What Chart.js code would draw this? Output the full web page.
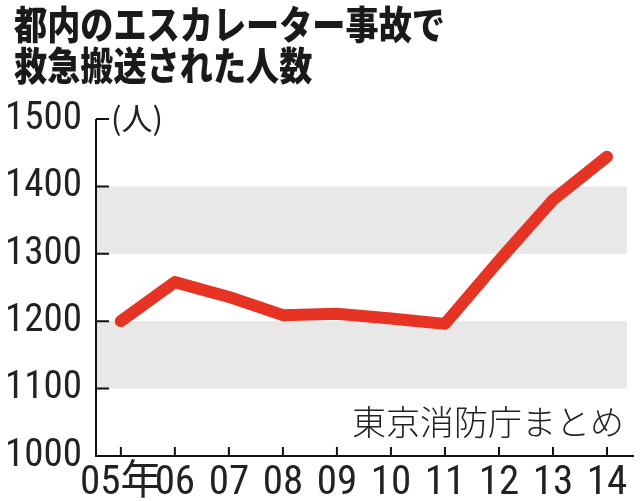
<!DOCTYPE html>
<html lang="ja">
<head>
<meta charset="utf-8">
<script src="https://cdn.jsdelivr.net/npm/chart.js@4/dist/chart.umd.min.js"></script>
<style>
  html, body { margin: 0; padding: 0; background: #fff; }
  #wrap { position: relative; width: 640px; height: 501px; overflow: hidden; }
  #chart { position: absolute; left: 0; top: 0; }
  .title {
    position: absolute; left: 14px; top: 2px;
    font-family: "Noto Sans CJK JP", sans-serif; font-weight: 900;
    font-size: 39px; line-height: 41px; color: #1a1a1a;
    transform: scaleX(0.85); transform-origin: left top; white-space: nowrap;
  }
  .unit {
    position: absolute; left: 111px; top: 94px;
    font-family: "Noto Sans CJK JP", sans-serif; font-size: 31px; color: #222;
  }
  .source {
    position: absolute; right: 16px; top: 396px;
    font-family: "Noto Sans CJK JP", sans-serif; font-size: 34px; color: #222;
    font-weight: 300;
  }
</style>
</head>
<body>
<div id="wrap">
  <canvas id="chart" width="640" height="501"></canvas>
  <div class="title">都内のエスカレーター事故で<br>救急搬送された人数</div>
  <div class="unit">(人)</div>
  <div class="source">東京消防庁まとめ</div>
</div>
<script>
const years = ['05年', '06', '07', '08', '09', '10', '11', '12', '13', '14'];
const counts = [1200, 1258, 1236, 1209, 1211, 1204, 1196, 1290, 1380, 1444];
const yTicks = [1000, 1100, 1200, 1300, 1400, 1500];
const bands = [[1100, 1200], [1300, 1400]];

const numFont = "'Roboto Condensed', 'DejaVu Sans Condensed', 'Noto Sans CJK JP', sans-serif";

// gray bands, axis lines and inward tick marks
const frame = {
    id: 'frame',
    beforeDatasetsDraw(chart) {
        const { ctx, chartArea: a, scales: { x, y } } = chart;
        ctx.save();
        ctx.fillStyle = '#e8e8e8';
        bands.forEach(([lo, hi]) => {
            const top = y.getPixelForValue(hi);
            ctx.fillRect(a.left, top, a.right - a.left, y.getPixelForValue(lo) - top);
        });
        ctx.strokeStyle = '#111';
        ctx.lineWidth = 2;
        ctx.beginPath();
        ctx.moveTo(a.left, y.getPixelForValue(1500));
        ctx.lineTo(a.left, a.bottom);
        ctx.lineTo(a.right + 7, a.bottom);
        yTicks.slice(1).forEach(v => {
            const py = y.getPixelForValue(v);
            ctx.moveTo(a.left, py);
            ctx.lineTo(a.left + 13, py);
        });
        years.forEach((_, i) => {
            const px = x.getPixelForValue(i);
            ctx.moveTo(px, a.bottom);
            ctx.lineTo(px, a.bottom - 9);
        });
        ctx.stroke();
        ctx.restore();
    }
};

new Chart(document.getElementById('chart'), {
    type: 'line',
    data: {
        datasets: [{
            data: counts.map((c, i) => ({ x: i, y: c })),
            borderColor: '#e63323',
            borderWidth: 12,
            borderCapStyle: 'round',
            borderJoinStyle: 'round',
            pointRadius: 0,
            tension: 0,
            clip: false
        }]
    },
    options: {
        responsive: false,
        animation: false,
        devicePixelRatio: 1,
        layout: { padding: { top: 119, right: 13, left: 0, bottom: 0 } },
        scales: {
            x: {
                type: 'linear',
                min: -0.46,
                max: 9.37,
                afterFit: s => { s.height = 45; },
                grid: { display: false, drawTicks: false },
                border: { display: false },
                ticks: {
                    stepSize: 1,
                    includeBounds: false,
                    autoSkip: false,
                    maxRotation: 0,
                    padding: 3,
                    color: '#222',
                    font: { family: numFont, size: 41 },
                    callback: v => years[v] ?? ''
                }
            },
            y: {
                min: 1000,
                max: 1500,
                afterFit: s => { s.width = 96; },
                afterBuildTicks: s => { s.ticks = yTicks.map(v => ({ value: v })); },
                grid: { display: false, drawTicks: false },
                border: { display: false },
                ticks: {
                    padding: 14,
                    color: '#222',
                    font: { family: numFont, size: 39 },
                    callback: v => String(v)
                }
            }
        },
        plugins: {
            legend: { display: false },
            tooltip: { enabled: false },
            title: { display: false }
        }
    },
    plugins: [frame]
});
</script>
</body>
</html>
